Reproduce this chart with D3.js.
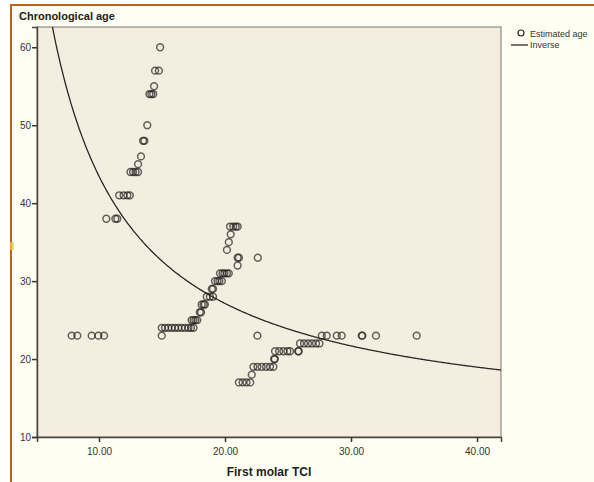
<!DOCTYPE html>
<html>
<head>
<meta charset="utf-8">
<script src="https://cdn.jsdelivr.net/npm/d3@7"></script>
<style>
  html, body { margin: 0; padding: 0; background: #ffffff; }
  svg { display: block; font-family: "Liberation Sans", Arial, sans-serif; }
</style>
</head>
<body>
<svg id="chart" width="594" height="482"></svg>
<script>
// ---- Data ----
const tci = [
  14.85,
  14.45, 14.75,
  14.37,
  14.0, 14.15, 14.3,
  13.83,
  13.5, 13.6,
  13.33,
  13.1,
  12.5, 12.7, 12.9, 13.1,
  11.6, 11.95, 12.25, 12.45,
  10.58, 11.3, 11.45,
  20.4, 20.65, 20.85, 21.0,
  20.45,
  20.3,
  20.15,
  21.0, 21.1, 22.6,
  21.0,
  19.6, 19.8, 19.95, 20.15, 20.3,
  19.2, 19.4, 19.55, 19.75,
  18.95, 19.05,
  18.55, 18.8, 19.05,
  18.15, 18.3, 18.4,
  18.0, 18.1,
  17.35, 17.5, 17.65, 17.8,
  14.98, 15.24, 15.5, 15.77, 16.03, 16.29, 16.56, 16.83, 17.1, 17.3, 17.5,
  14.98, 7.83, 8.28, 9.42, 9.95, 10.4, 22.57, 27.68, 28.07, 28.87, 29.26, 30.85, 30.9, 31.98, 35.21,
  25.95, 26.27, 26.59, 26.9, 27.22, 27.49,
  23.97, 24.29, 24.63, 24.95, 25.16, 25.8, 25.85,
  23.9, 23.95,
  22.25, 22.57, 22.91, 23.26, 23.57, 23.84,
  22.12,
  21.1, 21.4, 21.7, 22.0
];
const age = [
  60,
  57, 57,
  55,
  54, 54, 54,
  50,
  48, 48,
  46,
  45,
  44, 44, 44, 44,
  41, 41, 41, 41,
  38, 38, 38,
  37, 37, 37, 37,
  36,
  35,
  34,
  33, 33, 33,
  32,
  31, 31, 31, 31, 31,
  30, 30, 30, 30,
  29, 29,
  28, 28, 28,
  27, 27, 27,
  26, 26,
  25, 25, 25, 25,
  24, 24, 24, 24, 24, 24, 24, 24, 24, 24, 24,
  23, 23, 23, 23, 23, 23, 23, 23, 23, 23, 23, 23, 23, 23, 23,
  22, 22, 22, 22, 22, 22,
  21, 21, 21, 21, 21, 21, 21,
  20, 20,
  19, 19, 19, 19, 19, 19,
  18,
  17, 17, 17, 17
];
// Inverse model fit: age = b0 + b1 / TCI
const inverseB0 = 10.8;
const inverseB1 = 326.6;

const xTicks = [10, 20, 30, 40];
const yTicks = [10, 20, 30, 40, 50, 60];
const yTitle = "Chronological age";
const xTitle = "First molar TCI";
const legendLabels = ["Estimated age", "Inverse"];

// ---- Layout ----
const svg = d3.select("#chart");
const W = 594, H = 482;
const plot = { left: 37, top: 27, right: 501, bottom: 437 };

// outer frame
svg.append("rect").attr("x", 0).attr("y", 0).attr("width", W).attr("height", H).attr("fill", "#ffffff");
svg.append("rect").attr("x", 11).attr("y", 5).attr("width", W + 10).attr("height", H + 10)
  .attr("fill", "#fefef3").attr("stroke", "#b9651f").attr("stroke-width", 2);
svg.append("rect").attr("x", 10).attr("y", 242).attr("width", 4).attr("height", 8).attr("fill", "#f5c542").attr("opacity", 0.7);

const x = d3.scaleLinear().domain([5.08, 41.9]).range([plot.left, plot.right]);
const y = d3.scaleLinear().domain([10, 62.6]).range([plot.bottom, plot.top]);

// plot background
svg.append("rect")
  .attr("x", plot.left).attr("y", plot.top)
  .attr("width", plot.right - plot.left).attr("height", plot.bottom - plot.top)
  .attr("fill", "#f4eee1").attr("stroke", "#7a7570").attr("stroke-width", 1);

// axes
const xAxis = d3.axisBottom(x).tickValues(xTicks).tickFormat(d3.format(".2f")).tickSizeOuter(0).tickSize(5).tickPadding(6);
const yAxis = d3.axisLeft(y).tickValues(yTicks).tickFormat(d3.format("d")).tickSizeOuter(0).tickSize(5).tickPadding(1);

const gx = svg.append("g").attr("transform", `translate(0,${plot.bottom})`).call(xAxis);
const gy = svg.append("g").attr("transform", `translate(${plot.left},0)`).call(yAxis);
[gx, gy].forEach(g => {
  g.select(".domain").attr("stroke", "#4a4642").attr("stroke-width", 1.5);
  g.selectAll(".tick line").attr("stroke", "#3a3632").attr("stroke-width", 1.5);
  g.selectAll(".tick text").attr("fill", "#333").attr("font-size", 10)
    .attr("font-family", "'Liberation Sans', Arial, sans-serif");
});
gy.selectAll(".tick text").attr("dy", "0.35em");

// clip
svg.append("clipPath").attr("id", "clip").append("rect")
  .attr("x", plot.left).attr("y", plot.top)
  .attr("width", plot.right - plot.left).attr("height", plot.bottom - plot.top);

// inverse curve
const curvePts = d3.range(5.5, 42.0, 0.1).map(v => [v, inverseB0 + inverseB1 / v]);
const line = d3.line().x(d => x(d[0])).y(d => y(d[1])).curve(d3.curveBasis);
svg.append("path").datum(curvePts).attr("clip-path", "url(#clip)")
  .attr("d", line).attr("fill", "none").attr("stroke", "#2b2826").attr("stroke-width", 1.3);

// points
const pts = tci.map((v, i) => ({ x: v, y: age[i] }));
svg.append("g").selectAll("circle").data(pts).join("circle")
  .attr("cx", d => x(d.x)).attr("cy", d => y(d.y)).attr("r", 3.4)
  .attr("fill", "none").attr("stroke", "#252120").attr("stroke-opacity", 0.7).attr("stroke-width", 1.5);

// titles
svg.append("text").attr("x", 19).attr("y", 20).text(yTitle)
  .attr("font-size", 11).attr("font-weight", "bold").attr("fill", "#222");
svg.append("text").attr("x", (plot.left + plot.right) / 2).attr("y", 476).attr("text-anchor", "middle")
  .text(xTitle).attr("font-size", 12).attr("font-weight", "bold").attr("fill", "#222");

// legend
svg.append("circle").attr("cx", 521).attr("cy", 33).attr("r", 3)
  .attr("fill", "none").attr("stroke", "#2a2624").attr("stroke-width", 1.2);
svg.append("text").attr("x", 530).attr("y", 37).text(legendLabels[0]).attr("font-size", 9).attr("fill", "#333");
svg.append("line").attr("x1", 511).attr("x2", 528).attr("y1", 45).attr("y2", 45)
  .attr("stroke", "#2b2826").attr("stroke-width", 1.3);
svg.append("text").attr("x", 530).attr("y", 48).text(legendLabels[1]).attr("font-size", 9).attr("fill", "#333");
</script>
</body>
</html>
